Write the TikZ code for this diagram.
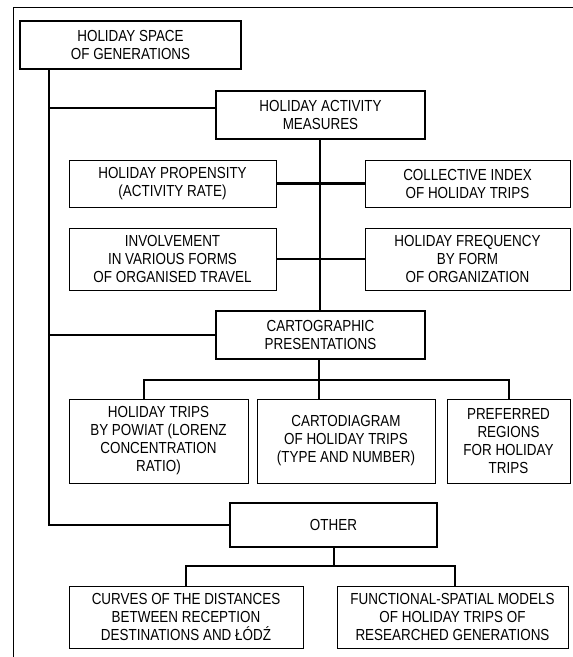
\documentclass[tikz,border=0pt]{standalone}
\usepackage{fontspec}
\setmainfont{Liberation Sans}[FakeStretch=0.84]
\usepackage{tikz}
\usetikzlibrary{positioning, calc}

\tikzset{
  mainbox/.style={draw, line width=2.4pt, align=center, inner sep=0pt,
    font=\fontsize{16}{18}\selectfont},
  subbox/.style={draw, line width=0.9pt, align=center, inner sep=0pt,
    font=\fontsize{16}{18}\selectfont},
  link/.style={line width=2.8pt},
  branch/.style={line width=2pt}
}

\begin{document}
\begin{tikzpicture}[x=1pt, y=-1pt]
\useasboundingbox (0,0) rectangle (573,657);
% frame
\coordinate (fbot) at (13,657);
\coordinate (fcorner) at (13,7);
\coordinate (fright) at (573,7);
\draw[line width=0.9pt] (fbot) -- (fcorner) -- (fright);
% main boxes
\node[mainbox, minimum width=221pt, minimum height=48pt] (space) at (130.5,45) {HOLIDAY SPACE\\OF GENERATIONS};
\node[mainbox, minimum width=209pt, minimum height=48pt] (meas) at (320.5,115) {HOLIDAY ACTIVITY\\MEASURES};
\node[mainbox, minimum width=209pt, minimum height=48pt] (carto) at (320.5,335) {CARTOGRAPHIC\\PRESENTATIONS};
\node[mainbox, minimum width=207pt, minimum height=44pt] (other) at (333.5,525) {OTHER};
% measures
\node[subbox, minimum width=207pt, minimum height=47pt] (prop) at (172.5,183.5) {HOLIDAY PROPENSITY\\(ACTIVITY RATE)};
\node[subbox, minimum width=205pt, minimum height=47pt] (coll) at (467.5,183.5) {COLLECTIVE INDEX\\OF HOLIDAY TRIPS};
\node[subbox, minimum width=207pt, minimum height=62pt] (inv) at (172.5,259) {INVOLVEMENT\\IN VARIOUS FORMS\\OF ORGANISED TRAVEL};
\node[subbox, minimum width=205pt, minimum height=62pt] (freq) at (467.5,259) {HOLIDAY FREQUENCY\\BY FORM\\OF ORGANIZATION};
% cartographic presentations
\node[subbox, minimum width=179pt, minimum height=84pt] (powiat) at (158.5,441) {HOLIDAY TRIPS\\BY POWIAT (LORENZ\\CONCENTRATION\\RATIO)};
\node[subbox, minimum width=178pt, minimum height=84pt] (cdiag) at (346,441) {CARTODIAGRAM\\OF HOLIDAY TRIPS\\(TYPE AND NUMBER)};
\node[subbox, minimum width=123pt, minimum height=84pt] (pref) at (508.5,441) {PREFERRED\\REGIONS\\FOR HOLIDAY\\TRIPS};
% other
\node[subbox, minimum width=234pt, minimum height=62pt] (curves) at (186,617) {CURVES OF THE DISTANCES\\BETWEEN RECEPTION\\DESTINATIONS AND ŁÓDŹ};
\node[subbox, minimum width=231pt, minimum height=62pt] (models) at (452.5,617) {FUNCTIONAL-SPATIAL MODELS\\OF HOLIDAY TRIPS OF\\RESEARCHED GENERATIONS};
% connectors
\coordinate (trunk) at (49,69);
\coordinate (spine) at (320,139);
\coordinate (measjoin) at ([yshift=7pt]meas.west);
\coordinate (cartofork) at (319,380);
\coordinate (powiatdrop) at (144,380);
\coordinate (otherfork) at (334,566);
\coordinate (modelsdrop) at (455,566);
\draw[link] (trunk) |- (other.west);
\draw[link] (trunk |- measjoin) -- (measjoin);
\draw[link] (trunk |- carto.west) -- (carto.west);
\draw[link] (spine) -- (spine |- carto.north);
\draw[link] (prop.east) -- (coll.west);
\draw[link] (inv.east) -- (freq.west);
\draw[link] (cartofork |- carto.south) -- (cartofork |- cdiag.north);
\draw[branch] (powiatdrop |- powiat.north) -- (powiatdrop) -- (cartofork) -| (pref.north);
\draw[branch] (other.south -| otherfork) -- (otherfork);
\draw[branch] (curves.north) |- (otherfork) -- (modelsdrop) -- (modelsdrop |- models.north);
\end{tikzpicture}
\end{document}
